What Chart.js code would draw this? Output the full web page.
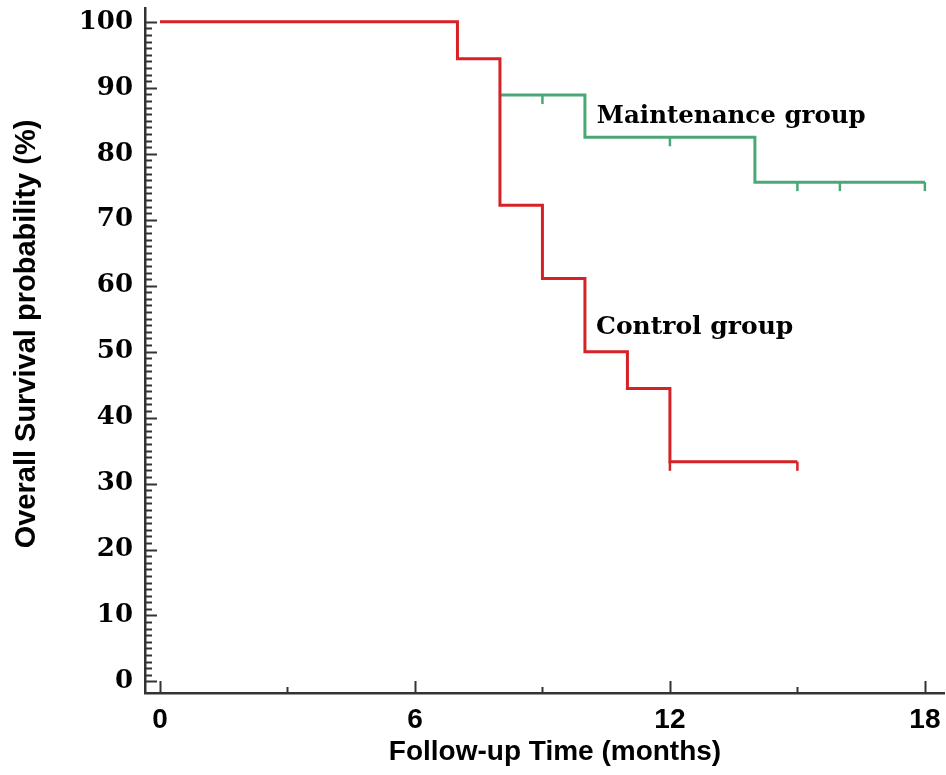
<!DOCTYPE html>
<html>
<head>
<meta charset="utf-8">
<script src="https://cdn.jsdelivr.net/npm/chart.js@4.4.1/dist/chart.umd.min.js"></script>
<style>
  html, body { margin: 0; padding: 0; background: #fff; }
  #wrap { width: 946px; height: 775px; position: relative; }
</style>
</head>
<body>
<div id="wrap"><canvas id="km"></canvas></div>
<script>
/* Kaplan-Meier curves — overall survival */
const controlTimes = [0, 7, 8, 9, 10, 11, 12, 15];
const controlSurvival = [100, 94.4, 72.2, 61.1, 50.0, 44.4, 33.3, 33.3];
const controlCensored = [12, 15];

const maintenanceTimes = [8, 10, 14, 18];
const maintenanceSurvival = [88.9, 82.5, 75.7, 75.7];
const maintenanceCensored = [9, 12, 15, 16, 18];

const xTickValues = [0, 6, 12, 18];
const xMinorTicks = [3, 9, 15];
const yTickValues = [0, 10, 20, 30, 40, 50, 60, 70, 80, 90, 100];

const colors = { control: '#d62226', maintenance: '#4aa877', axis: '#333333', text: '#000000' };
const sansBold = '"Liberation Sans", Arial, sans-serif';

function toPoints(times, values) {
    return times.map((t, i) => ({ x: t, y: values[i] }));
}

// survival value of a step curve at time t
function stepValue(times, values, t) {
    let v = values[0];
    for (let i = 0; i < times.length; i++) if (times[i] <= t) v = values[i];
    return v;
}

const kmExtras = {
    id: 'kmExtras',
    afterDatasetsDraw(chart) {
        const { ctx, chartArea, scales: { x, y } } = chart;
        ctx.save();
        ctx.lineCap = 'butt';

        // censor marks (drop below the line)
        const censor = (times, values, marks, color) => {
            ctx.strokeStyle = color;
            ctx.lineWidth = 2.5;
            marks.forEach(t => {
                const px = x.getPixelForValue(t);
                const py = y.getPixelForValue(stepValue(times, values, t));
                ctx.beginPath();
                ctx.moveTo(px, py);
                ctx.lineTo(px, py + 9);
                ctx.stroke();
            });
        };
        censor(maintenanceTimes, maintenanceSurvival, maintenanceCensored, colors.maintenance);
        censor(controlTimes, controlSurvival, controlCensored, colors.control);

        // inward axis ticks
        ctx.strokeStyle = colors.axis;
        ctx.lineWidth = 2;
        for (let v = 0; v <= 100; v++) {
            const py = Math.round(y.getPixelForValue(v)) + 0.5;
            const len = v % 10 === 0 ? 12 : 7;
            ctx.beginPath();
            ctx.moveTo(chartArea.left, py);
            ctx.lineTo(chartArea.left + len, py);
            ctx.stroke();
        }
        const xTick = (v, len) => {
            const px = Math.round(x.getPixelForValue(v)) + 0.5;
            ctx.beginPath();
            ctx.moveTo(px, chartArea.bottom);
            ctx.lineTo(px, chartArea.bottom - len);
            ctx.stroke();
        };
        xTickValues.forEach(v => xTick(v, 12));
        xMinorTicks.forEach(v => xTick(v, 6));

        // curve labels
        ctx.fillStyle = colors.text;
        ctx.textBaseline = 'middle';
        ctx.textAlign = 'left';
        ctx.font = 'bold 24.5px "DejaVu Serif", serif';
        ctx.fillText('Maintenance group', x.getPixelForValue(10.28), y.getPixelForValue(85.6));
        ctx.font = 'bold 25px "DejaVu Serif", serif';
        ctx.fillText('Control group', x.getPixelForValue(10.26), y.getPixelForValue(53.6));

        // axis titles
        ctx.textAlign = 'center';
        ctx.font = 'bold 28px ' + sansBold;
        ctx.fillText('Follow-up Time (months)', 555, 752);
        ctx.translate(27, 334);
        ctx.rotate(-Math.PI / 2);
        ctx.font = 'bold 29px ' + sansBold;
        ctx.fillText('Overall Survival probability (%)', 0, 0);
        ctx.restore();
    }
};

new Chart(document.getElementById('km'), {
    type: 'line',
    data: {
        datasets: [
            {
                label: 'Control group',
                data: toPoints(controlTimes, controlSurvival),
                borderColor: colors.control,
                borderWidth: 3,
                stepped: 'before',
                pointRadius: 0,
                fill: false
            },
            {
                label: 'Maintenance group',
                data: toPoints(maintenanceTimes, maintenanceSurvival),
                borderColor: colors.maintenance,
                borderWidth: 3,
                stepped: 'before',
                pointRadius: 0,
                fill: false
            }
        ]
    },
    options: {
        responsive: true,
        maintainAspectRatio: false,
        animation: false,
        layout: { padding: { top: 8, right: 2, left: 0, bottom: 0 } },
        plugins: { legend: { display: false }, tooltip: { enabled: false } },
        scales: {
            x: {
                type: 'linear',
                min: -0.353,
                max: 18.45,
                grid: { display: false, drawTicks: false },
                border: { display: true, color: colors.axis, width: 2.5 },
                afterBuildTicks: s => { s.ticks = xTickValues.map(v => ({ value: v })); },
                afterFit: s => { s.height = 82; s.paddingLeft = 0; s.paddingRight = 0; },
                ticks: {
                    padding: 10,
                    color: colors.text,
                    font: { family: sansBold, size: 28, weight: 'bold' }
                }
            },
            y: {
                type: 'linear',
                min: -1.75,
                max: 102.1,
                grid: { display: false, drawTicks: false },
                border: { display: true, color: colors.axis, width: 2.5 },
                afterBuildTicks: s => { s.ticks = yTickValues.map(v => ({ value: v })); },
                afterFit: s => { s.width = 145; s.paddingTop = 0; s.paddingBottom = 0; },
                ticks: {
                    padding: 12,
                    color: colors.text,
                    font: { family: '"DejaVu Serif", serif', size: 26, weight: 'bold' }
                }
            }
        }
    },
    plugins: [kmExtras]
});
</script>
</body>
</html>
